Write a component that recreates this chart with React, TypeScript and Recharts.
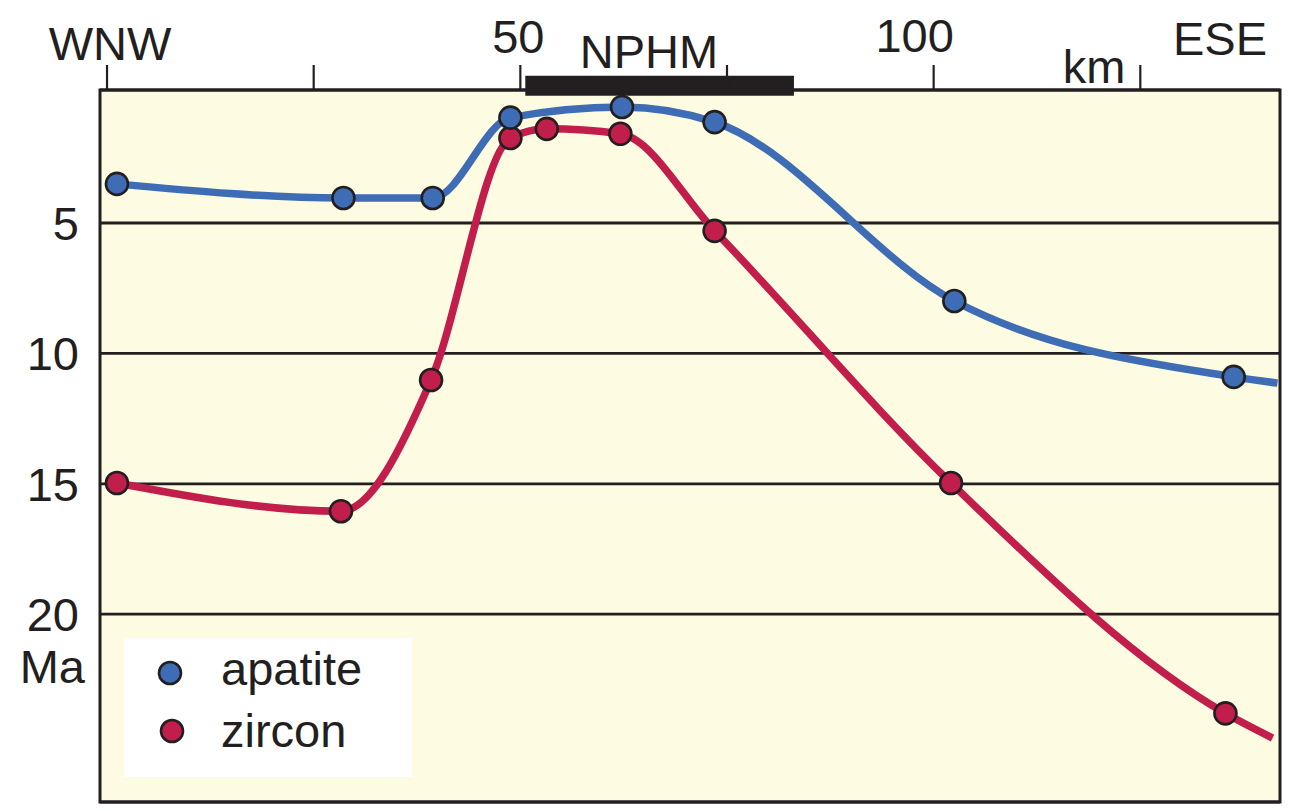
import {
  CartesianGrid,
  Legend,
  Line,
  LineChart,
  ReferenceArea,
  XAxis,
  YAxis,
} from "recharts";

// sample positions along the WNW-ESE profile (km) and cooling ages (Ma)
const apatiteKm = [1.2, 28.6, 39.4, 48.8, 62.3, 73.5, 102.5, 136.3];
const apatiteMa = [3.5, 4.04, 4.04, 0.96, 0.55, 1.13, 7.99, 10.9];
const zirconKm = [1.2, 28.3, 39.2, 48.8, 53.2, 62.1, 73.5, 102.1, 135.3];
const zirconMa = [14.97, 16.05, 11.02, 1.74, 1.39, 1.58, 5.3, 14.97, 23.8];

// where each drawn curve runs out at the right frame [km, Ma]
const apatiteTail = [141.6, 11.14];
const zirconTail = [141.0, 24.75];

const kmTicks = [0, 25, 50, 75, 100, 125];
const kmLabels: Record<number, string> = { 0: "WNW", 50: "50", 100: "100" };
const maTicks = [5, 10, 15, 20];
const nphmKm = [50.6, 83.1];

const INK = "#231F20";
const BLUE = "#3E6DB5";
const RED = "#C21E4B";
const FONT = "'Liberation Sans', Arial, sans-serif";

type Pt = { km: number; ma: number; sample: boolean };

const toSeries = (km: number[], ma: number[], tail: number[]): Pt[] => [
  ...km.map((k, i) => ({ km: k, ma: ma[i], sample: true })),
  { km: tail[0], ma: tail[1], sample: false },
];

const series = [
  { name: "zircon", color: RED, data: toSeries(zirconKm, zirconMa, zirconTail) },
  { name: "apatite", color: BLUE, data: toSeries(apatiteKm, apatiteMa, apatiteTail) },
];

// label nudges [dx, baseline y]
const kmLabelPos: Record<number, [number, number]> = {
  0: [3, 60],
  50: [-2, 53],
  100: [-19, 52],
};

const KmTick = (props: any) => {
  const { x, payload } = props;
  const label = kmLabels[payload.value];
  if (!label) return <g />;
  const [dx, by] = kmLabelPos[payload.value];
  return (
    <text x={x + dx} y={by} textAnchor="middle" fontSize={47} fill={INK} fontFamily={FONT}>
      {label}
    </text>
  );
};

const MaTick = (props: any) => {
  const { y, payload } = props;
  return (
    <text x={79} y={y + 17} textAnchor="end" fontSize={47} fill={INK} fontFamily={FONT}>
      {payload.value}
    </text>
  );
};

const renderDot = (color: string) => (p: any) =>
  p.payload.sample ? (
    <circle key={p.index} cx={p.cx} cy={p.cy} r={11} fill={color} stroke={INK} strokeWidth={2.6} />
  ) : (
    <g key={p.index} />
  );

const LegendBox = () => (
  <div style={{ width: 288, height: 139, background: "#fff" }}>
    <svg width={288} height={139}>
      {[...series].reverse().map((s, i) => (
        <g key={s.name}>
          <circle cx={46 + i * 2} cy={35 + i * 58} r={11} fill={s.color} stroke={INK} strokeWidth={2.6} />
          <text x={97} y={47 + i * 62} fontSize={47} fill={INK} fontFamily={FONT}>
            {s.name}
          </text>
        </g>
      ))}
    </svg>
  </div>
);

export default function App() {
  return (
    <div style={{ position: "absolute", left: 0, top: 0, width: 1292, height: 811, background: "#fff" }}>
      <LineChart width={1292} height={811} margin={{ top: 0, right: 12, bottom: 9, left: 0 }}>
        <CartesianGrid vertical={false} fill="#FDFBE2" fillOpacity={1} stroke={INK} strokeWidth={2.8} />
        <XAxis
          type="number"
          dataKey="km"
          orientation="top"
          height={90}
          domain={[-0.85, 141.9]}
          ticks={kmTicks}
          interval={0}
          tickSize={25}
          axisLine={false}
          tickLine={{ stroke: INK, strokeWidth: 2.2 }}
          tick={KmTick}
          allowDataOverflow
        />
        <YAxis
          type="number"
          dataKey="ma"
          reversed
          domain={[-0.1, 27.2]}
          ticks={maTicks}
          interval={0}
          width={100}
          axisLine={false}
          tickLine={false}
          tick={MaTick}
          allowDataOverflow
        />
        <ReferenceArea
          x1={-0.85}
          x2={141.9}
          y1={-0.1}
          y2={27.2}
          fill="none"
          stroke={INK}
          strokeWidth={3}
          ifOverflow="visible"
        />
        <ReferenceArea
          x1={nphmKm[0]}
          x2={nphmKm[1]}
          y1={-0.65}
          y2={0.12}
          fill={INK}
          fillOpacity={1}
          stroke="none"
          ifOverflow="visible"
        />
        {series.map((s) => (
          <Line
            key={s.name}
            data={s.data}
            dataKey="ma"
            name={s.name}
            type="monotone"
            stroke={s.color}
            strokeWidth={7.5}
            dot={renderDot(s.color)}
            activeDot={false}
            isAnimationActive={false}
          />
        ))}
        <Legend
          layout="horizontal"
          verticalAlign="middle"
          align="center"
          content={LegendBox}
          wrapperStyle={{ left: 124, top: 638, width: 288, height: 139 }}
        />
        <text x={649} y={68} textAnchor="middle" fontSize={47} fill={INK} fontFamily={FONT}>
          NPHM
        </text>
        <text x={1094} y={83} textAnchor="middle" fontSize={47} fill={INK} fontFamily={FONT}>
          km
        </text>
        <text x={1220} y={55} textAnchor="middle" fontSize={47} fill={INK} fontFamily={FONT}>
          ESE
        </text>
        <text x={85} y={683} textAnchor="end" fontSize={47} fill={INK} fontFamily={FONT}>
          Ma
        </text>
      </LineChart>
    </div>
  );
}
